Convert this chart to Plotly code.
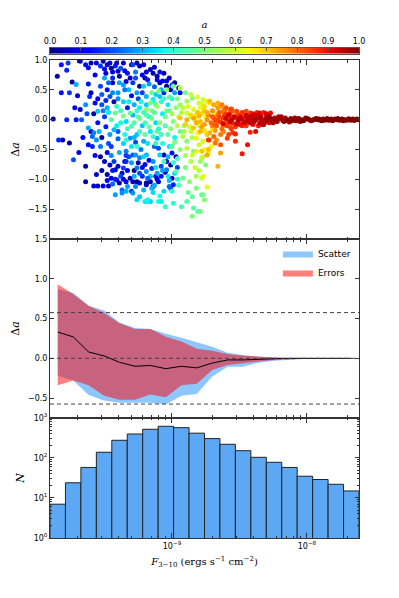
import numpy as np
import plotly.graph_objects as go

# matplotlib "jet" colour map
JET = [[0.0, "rgb(0,0,128)"], [0.11, "rgb(0,0,255)"], [0.125, "rgb(0,0,255)"],
       [0.34, "rgb(0,219,255)"], [0.35, "rgb(0,229,247)"], [0.375, "rgb(21,255,226)"],
       [0.64, "rgb(239,255,8)"], [0.65, "rgb(247,245,0)"], [0.66, "rgb(255,236,0)"],
       [0.89, "rgb(255,19,0)"], [0.91, "rgb(232,0,0)"], [1.0, "rgb(128,0,0)"]]

# scatter points: (log10 F, delta a, a)
navy = [(-9.88, 0.01, 0.05), (-9.85, 0.73, 0.03), (-9.68, 0.98, 0.04), (-9.81, -0.34, 0.06),
        (-9.76, -0.39, 0.03), (-9.74, 0.63, 0.02), (-9.68, 0.17, 0.05), (-9.64, -1.04, 0.04),
        (-9.58, -1.11, 0.08), (-9.55, -1.11, 0.06), (-9.51, -1.11, 0.09), (-9.47, -1.11, 0.05),
        (-9.64, -0.78, 0.03), (-9.56, -0.92, 0.07), (-9.53, -0.62, 0.02), (-9.50, -0.70, 0.05),
        (-9.46, -0.76, 0.08), (-9.48, -0.92, 0.04), (-9.45, -0.98, 0.10), (-9.41, -1.01, 0.06),
        (-9.39, -1.06, 0.03), (-9.34, -1.04, 0.09), (-9.29, -1.04, 0.05), (-9.24, -1.06, 0.11),
        (-9.19, -1.09, 0.07), (-9.14, -1.12, 0.04), (-9.42, -0.84, 0.02), (-9.37, -0.90, 0.06),
        (-9.56, 0.95, 0.08), (-9.51, 0.98, 0.03), (-9.46, 0.95, 0.10), (-9.40, 0.81, 0.05),
        (-9.39, 0.73, 0.02), (-9.34, 0.64, 0.07), (-9.24, 0.56, 0.04), (-9.11, 0.73, 0.03),
        (-9.06, 0.78, 0.06), (-9.30, 0.92, 0.02), (-9.24, 0.90, 0.05), (-9.14, 0.78, 0.03),
        (-9.11, 0.67, 0.08), (-9.09, 0.62, 0.04), (-9.04, 0.56, 0.02), (-9.01, 0.50, 0.06),
        (-8.95, 0.53, 0.03), (-9.31, -0.98, 0.04), (-9.26, -1.04, 0.02), (-9.19, -1.06, 0.05),
        (-9.16, -1.04, 0.03), (-9.10, -1.04, 0.07), (-9.06, -0.59, 0.04), (-9.01, -0.76, 0.02),
        (-9.04, -0.70, 0.06), (-9.62, 0.87, 0.09), (-9.48, 0.92, 0.07), (-9.21, 0.92, 0.10),
        (-9.60, -0.20, 0.04), (-9.70, 0.40, 0.08), (-9.58, 0.10, 0.03), (-9.35, -0.70, 0.05),
        (-9.28, -0.85, 0.02), (-9.12, -0.95, 0.06), (-9.05, -0.88, 0.03), (-9.00, -0.98, 0.05),
        (-8.97, -0.62, 0.02), (-9.43, 0.30, 0.07), (-9.52, -0.30, 0.04), (-9.20, 0.70, 0.03),
        (-9.16, 0.84, 0.06), (-8.98, 0.62, 0.04), (-9.36, 0.95, 0.07), (-9.26, 0.95, 0.04),
        (-9.44, 0.80, 0.08), (-9.22, 0.75, 0.10), (-9.44, 0.62, 0.06), (-9.02, 0.70, 0.05),
        (-9.52, -0.85, 0.04), (-9.17, -0.68, 0.08), (-9.07, 0.65, 0.09), (-9.57, 0.75, 0.10)]
blue = [(-9.82, 0.92, 0.14), (-9.77, 0.95, 0.18), (-9.78, 0.83, 0.16), (-9.64, 0.92, 0.13),
        (-9.53, 0.90, 0.17), (-9.42, 0.90, 0.15), (-9.29, 0.92, 0.19), (-9.84, -0.34, 0.16),
        (-9.73, -0.67, 0.20), (-9.82, 0.45, 0.14), (-9.76, 0.45, 0.18), (-9.67, 0.0, 0.21),
        (-9.71, 0.0, 0.15), (-9.78, 0.0, 0.17), (-9.59, -0.28, 0.22), (-9.62, -0.42, 0.13),
        (-9.59, -0.45, 0.16), (-9.53, 0.56, 0.19), (-9.48, 0.50, 0.14), (-9.46, 0.39, 0.20),
        (-9.61, 0.39, 0.17), (-9.57, 0.28, 0.13), (-9.29, 0.62, 0.18), (-9.18, 0.67, 0.15),
        (-9.29, -0.59, 0.21), (-9.34, -0.70, 0.16), (-9.36, -0.81, 0.19), (-9.37, -1.18, 0.22),
        (-9.30, -1.20, 0.18), (-9.01, -1.15, 0.20), (-8.99, -1.09, 0.16), (-9.00, -0.56, 0.14),
        (-9.45, -0.45, 0.18), (-9.40, -0.20, 0.21), (-9.33, 0.20, 0.15), (-9.25, 0.35, 0.19),
        (-9.20, -0.75, 0.13), (-9.15, -0.82, 0.17), (-9.08, -0.78, 0.20), (-9.06, 0.45, 0.16),
        (-9.13, -0.45, 0.22), (-9.50, 0.05, 0.18), (-9.55, -0.05, 0.14), (-9.27, -0.38, 0.20),
        (-9.22, -0.95, 0.17), (-9.42, -1.00, 0.15), (-8.96, -0.80, 0.19), (-8.94, 0.45, 0.13),
        (-9.50, 0.85, 0.12), (-9.38, 0.86, 0.20), (-9.33, 0.78, 0.15), (-9.22, 0.45, 0.18),
        (-9.62, 0.60, 0.14), (-9.52, 0.42, 0.22), (-9.30, 0.40, 0.12), (-9.44, 0.70, 0.16),
        (-9.52, 0.25, 0.20), (-9.40, -0.32, 0.22), (-9.49, -0.12, 0.15), (-9.55, 0.35, 0.12),
        (-9.48, -0.55, 0.10), (-9.43, -0.70, 0.18), (-9.33, -0.85, 0.10), (-9.08, -0.95, 0.15),
        (-9.22, -0.80, 0.12), (-9.38, -0.95, 0.20), (-9.10, -0.48, 0.20)]
cyan = [(-9.71, 0.59, 0.30), (-9.55, 0.14, 0.32), (-9.62, -0.14, 0.29), (-9.58, -0.22, 0.25),
        (-9.56, -0.34, 0.27), (-9.53, -0.45, 0.24), (-9.43, -0.17, 0.31), (-9.42, -1.26, 0.28),
        (-9.37, -1.23, 0.26), (-9.34, -1.20, 0.30), (-9.29, -1.23, 0.27), (-9.26, -1.34, 0.34),
        (-9.19, -1.37, 0.35), (-9.24, -1.29, 0.32), (-9.20, -1.37, 0.36), (-9.16, -1.37, 0.33),
        (-9.18, -1.34, 0.37), (-9.10, -1.37, 0.38), (-9.08, -1.37, 0.36), (-9.39, 0.62, 0.29),
        (-9.32, 0.50, 0.31), (-9.26, 0.45, 0.28), (-9.21, 0.56, 0.33), (-9.19, 0.39, 0.30),
        (-9.14, 0.34, 0.35), (-9.09, 0.39, 0.32), (-9.34, -0.03, 0.34), (-9.29, 0.08, 0.30),
        (-9.24, 0.20, 0.36), (-9.19, 0.25, 0.33), (-9.14, 0.31, 0.37), (-9.31, -0.31, 0.27),
        (-9.26, -0.25, 0.32), (-9.21, -0.36, 0.29), (-9.16, -0.20, 0.35), (-9.11, -0.31, 0.31),
        (-9.34, -0.53, 0.25), (-9.27, -0.59, 0.28), (-9.24, -0.64, 0.26), (-9.19, -0.59, 0.30),
        (-9.14, -0.70, 0.27), (-9.09, -0.59, 0.33), (-9.26, -0.81, 0.24), (-9.19, -0.87, 0.26),
        (-9.11, -0.90, 0.28), (-9.04, -0.84, 0.25), (-9.05, -1.46, 0.40), (-8.99, -1.40, 0.39),
        (-9.48, 0.20, 0.30), (-9.45, -0.60, 0.26), (-9.40, 0.45, 0.28), (-9.36, -0.40, 0.33),
        (-9.13, -1.10, 0.29), (-9.06, -1.20, 0.34), (-9.02, -1.02, 0.31), (-8.98, -0.30, 0.37),
        (-9.02, -0.45, 0.35), (-9.07, 0.10, 0.36), (-9.12, -0.05, 0.34), (-9.17, 0.05, 0.38),
        (-9.22, -0.10, 0.32), (-9.03, 0.25, 0.36), (-9.00, 0.35, 0.38), (-9.64, 0.25, 0.27),
        (-9.50, 0.70, 0.29), (-9.27, 0.80, 0.25), (-9.17, 0.60, 0.28), (-9.13, 0.55, 0.22),
        (-9.08, 0.50, 0.30), (-9.35, 0.50, 0.24), (-9.40, 0.35, 0.26), (-9.12, 0.42, 0.33),
        (-8.98, 0.45, 0.28), (-9.47, 0.12, 0.35), (-9.28, 0.25, 0.30), (-9.36, 0.30, 0.33),
        (-9.46, -0.25, 0.28), (-9.38, -0.05, 0.38), (-9.39, -0.55, 0.30), (-9.30, -0.45, 0.35),
        (-9.23, -0.50, 0.25), (-9.12, -0.80, 0.35), (-9.03, -0.62, 0.30), (-9.30, -0.72, 0.28),
        (-9.16, -0.95, 0.32), (-9.27, -1.12, 0.26), (-9.21, -1.18, 0.30), (-9.14, -1.22, 0.34),
        (-9.09, -1.28, 0.38), (-9.33, -1.12, 0.28)]
mixed = [(-9.60, 0.95, 0.05), (-9.49, 0.78, 0.12), (-9.45, 0.86, 0.03), (-9.41, 0.95, 0.09),
         (-9.35, 0.82, 0.13), (-9.31, 0.70, 0.06), (-9.27, 0.70, 0.20), (-9.19, 0.80, 0.08),
         (-9.13, 0.88, 0.05), (-9.09, 0.80, 0.14), (-9.04, 0.65, 0.10), (-9.00, 0.58, 0.18),
         (-9.36, 0.58, 0.28), (-9.47, 0.62, 0.22), (-9.66, -0.30, 0.12), (-9.63, 0.10, 0.20),
         (-9.60, 0.45, 0.06), (-9.57, -0.60, 0.10), (-9.54, -0.20, 0.30), (-9.51, 0.15, 0.25),
         (-9.47, -0.40, 0.20), (-9.44, 0.45, 0.26), (-9.41, -0.10, 0.36), (-9.49, 0.32, 0.16),
         (-9.69, -0.55, 0.08), (-9.72, 0.20, 0.10), (-9.38, 0.15, 0.42), (-9.35, -0.25, 0.38),
         (-9.32, 0.30, 0.36), (-9.28, -0.05, 0.44), (-9.26, 0.15, 0.40), (-9.23, 0.30, 0.38),
         (-9.20, -0.25, 0.46), (-9.18, -0.40, 0.35), (-9.15, 0.15, 0.50), (-9.12, 0.25, 0.44),
         (-9.09, -0.05, 0.52), (-9.07, -0.40, 0.38), (-9.04, 0.15, 0.50), (-9.01, -0.15, 0.52),
         (-9.28, -0.30, 0.30), (-9.24, 0.02, 0.48), (-9.19, 0.08, 0.45), (-9.14, -0.28, 0.42),
         (-9.06, 0.35, 0.42), (-9.11, -0.20, 0.46), (-9.44, -0.85, 0.14), (-9.40, -0.78, 0.08),
         (-9.36, -1.00, 0.12), (-9.32, -0.62, 0.20), (-9.28, -0.95, 0.30), (-9.25, -0.72, 0.06),
         (-9.21, -0.62, 0.34), (-9.18, -0.98, 0.22), (-9.15, -1.15, 0.30), (-9.11, -1.00, 0.10),
         (-9.07, -0.85, 0.28), (-9.03, -0.95, 0.36), (-9.02, -1.12, 0.22), (-8.98, -0.90, 0.33),
         (-8.96, -1.00, 0.40), (-9.24, -0.90, 0.20), (-9.34, -0.60, 0.18), (-9.44, -1.08, 0.22),
         (-9.48, -1.02, 0.12)]
green = [(-9.45, 0.0, 0.45), (-9.42, 0.11, 0.47), (-9.36, 0.06, 0.50), (-9.31, 0.11, 0.46),
         (-9.30, -0.11, 0.44), (-9.24, -0.20, 0.42), (-9.34, -0.34, 0.40), (-9.26, -0.45, 0.41),
         (-9.19, 0.17, 0.52), (-9.11, 0.22, 0.54), (-9.16, 0.28, 0.51), (-9.15, 0.45, 0.48),
         (-9.10, 0.48, 0.50), (-9.04, 0.50, 0.53), (-8.99, 0.56, 0.49), (-8.94, 0.53, 0.55),
         (-8.94, 0.25, 0.53), (-8.89, 0.31, 0.55), (-8.85, 0.36, 0.52), (-8.99, -0.03, 0.50),
         (-8.94, -0.20, 0.48), (-8.89, -0.36, 0.51), (-8.84, -0.53, 0.47), (-8.79, -0.70, 0.53),
         (-8.97, -0.87, 0.45), (-8.92, -0.98, 0.48), (-8.87, -1.04, 0.52), (-8.82, -1.15, 0.50),
         (-8.78, -1.26, 0.46), (-8.84, -1.48, 0.44), (-8.81, -1.54, 0.47), (-8.85, -1.62, 0.50),
         (-8.77, -1.26, 0.49), (-8.76, -1.34, 0.51), (-8.75, -0.76, 0.50), (-8.79, -1.54, 0.48),
         (-8.89, -1.37, 0.45), (-8.85, -1.29, 0.46), (-8.93, -1.46, 0.42), (-9.05, -0.10, 0.44),
         (-9.08, -0.25, 0.42), (-9.00, -0.45, 0.46), (-8.96, -0.65, 0.43), (-9.02, 0.15, 0.47),
         (-9.12, -0.40, 0.41), (-9.06, -0.70, 0.43), (-8.90, -0.80, 0.49), (-8.86, 0.05, 0.54),
         (-8.91, -0.10, 0.52), (-9.20, -0.05, 0.43), (-9.00, -1.20, 0.41), (-8.95, -1.10, 0.44),
         (-8.88, -1.22, 0.47), (-9.41, 0.22, 0.40), (-9.33, -0.15, 0.43), (-9.25, 0.05, 0.46),
         (-9.21, 0.12, 0.42), (-9.17, -0.12, 0.48), (-9.13, 0.12, 0.45), (-9.10, -0.15, 0.40),
         (-9.15, 0.02, 0.50), (-9.05, 0.05, 0.48), (-9.08, 0.30, 0.40), (-9.03, -0.25, 0.45),
         (-8.99, -0.72, 0.40), (-9.00, 0.10, 0.55), (-8.97, 0.20, 0.52), (-8.98, -0.38, 0.50),
         (-8.94, -0.50, 0.52), (-8.90, -0.60, 0.55), (-9.02, 0.38, 0.45), (-8.96, 0.35, 0.50),
         (-8.90, 0.45, 0.48), (-8.91, -0.20, 0.55), (-8.85, -0.30, 0.56), (-8.86, -0.70, 0.56),
         (-8.82, -0.95, 0.55)]
yellow = [(-8.89, 0.11, 0.60), (-8.84, 0.17, 0.62), (-8.82, 0.08, 0.61), (-8.79, 0.20, 0.63),
          (-8.77, 0.25, 0.64), (-8.74, 0.31, 0.62), (-8.77, 0.34, 0.60), (-8.73, 0.31, 0.65),
          (-8.72, 0.28, 0.66), (-8.89, -0.48, 0.58), (-8.85, -0.59, 0.60), (-8.82, -0.53, 0.62),
          (-8.78, -0.64, 0.59), (-8.82, -0.31, 0.63), (-8.77, -0.36, 0.61), (-8.74, -0.25, 0.64),
          (-8.74, -1.13, 0.62), (-8.78, -0.98, 0.60), (-8.77, -0.95, 0.63), (-8.77, -0.62, 0.58),
          (-8.73, -0.56, 0.61), (-8.76, -0.50, 0.64), (-8.86, -0.20, 0.59), (-8.92, 0.20, 0.58),
          (-8.80, -0.10, 0.62), (-8.75, 0.05, 0.65), (-8.70, -0.15, 0.66), (-8.83, -0.80, 0.60),
          (-8.80, -0.85, 0.57), (-8.95, 0.05, 0.59), (-8.92, -0.28, 0.57), (-8.68, 0.10, 0.66),
          (-8.71, -0.45, 0.64), (-8.96, -0.10, 0.58), (-8.93, 0.12, 0.57), (-8.88, 0.22, 0.62),
          (-8.87, -0.12, 0.60), (-8.83, 0.00, 0.66), (-8.81, -0.22, 0.64), (-8.80, 0.28, 0.60),
          (-8.78, 0.10, 0.68), (-8.76, -0.18, 0.67), (-8.86, 0.42, 0.58), (-8.81, 0.38, 0.63),
          (-8.80, -0.42, 0.60)]
orange = [(-8.94, 0.03, 0.70), (-8.89, 0.0, 0.72), (-8.84, 0.03, 0.74), (-8.79, -0.03, 0.71),
          (-8.74, 0.0, 0.76), (-8.69, 0.03, 0.78), (-8.84, -0.14, 0.70), (-8.79, -0.20, 0.72),
          (-8.74, -0.25, 0.69), (-8.72, -0.34, 0.74), (-8.73, -0.50, 0.71), (-8.74, -0.59, 0.73),
          (-8.78, -0.53, 0.70), (-8.64, -0.56, 0.74), (-8.66, -0.78, 0.72), (-8.67, -0.34, 0.76),
          (-8.64, -0.25, 0.78), (-8.62, -0.20, 0.77), (-8.72, 0.31, 0.71), (-8.69, 0.25, 0.73),
          (-8.66, 0.20, 0.75), (-8.62, 0.14, 0.78), (-8.64, 0.22, 0.74), (-8.61, 0.17, 0.79),
          (-8.57, 0.17, 0.80), (-8.55, 0.14, 0.80), (-8.68, -0.39, 0.79), (-8.86, 0.08, 0.68),
          (-8.81, 0.12, 0.70), (-8.76, -0.08, 0.74), (-8.70, -0.10, 0.77), (-8.66, 0.08, 0.78),
          (-8.60, -0.05, 0.80), (-8.58, 0.05, 0.79), (-8.62, -0.10, 0.78), (-8.90, -0.08, 0.69),
          (-8.82, -0.05, 0.72), (-8.68, -0.18, 0.75), (-8.57, -0.12, 0.80), (-8.52, 0.08, 0.80),
          (-8.80, 0.06, 0.72), (-8.78, -0.12, 0.74), (-8.76, 0.15, 0.70), (-8.73, 0.08, 0.78),
          (-8.71, -0.05, 0.80), (-8.70, 0.15, 0.76), (-8.76, 0.22, 0.68), (-8.72, -0.22, 0.72),
          (-8.69, -0.28, 0.80), (-8.66, 0.28, 0.72), (-8.63, 0.25, 0.78), (-8.74, 0.12, 0.73)]
red = [(-8.55, -0.22, 0.86), (-8.53, -0.24, 0.88), (-8.53, -0.36, 0.87), (-8.48, -0.57, 0.89),
       (-8.44, -0.42, 0.90), (-8.42, -0.21, 0.88), (-8.38, -0.20, 0.91), (-8.59, -0.31, 0.85),
       (-8.58, -0.25, 0.84), (-8.64, -0.42, 0.82), (-8.73, -0.34, 0.86), (-8.50, 0.08, 0.87),
       (-8.47, 0.11, 0.85), (-8.45, 0.08, 0.89), (-8.42, 0.11, 0.86), (-8.40, 0.10, 0.90),
       (-8.37, 0.12, 0.88), (-8.35, 0.11, 0.91), (-8.32, 0.12, 0.89), (-8.30, 0.10, 0.92),
       (-8.27, 0.11, 0.90), (-8.52, 0.14, 0.84), (-8.48, 0.12, 0.86), (-8.45, 0.14, 0.83),
       (-8.53, -0.12, 0.85), (-8.48, -0.10, 0.88), (-8.45, -0.10, 0.86), (-8.40, -0.08, 0.90),
       (-8.36, -0.10, 0.89), (-8.33, -0.08, 0.91), (-8.70, 0.05, 0.82), (-8.66, -0.02, 0.83),
       (-8.62, 0.03, 0.85), (-8.58, -0.04, 0.84), (-8.55, 0.02, 0.87), (-8.51, -0.05, 0.86),
       (-8.46, 0.03, 0.89), (-8.43, -0.03, 0.88), (-8.60, 0.10, 0.83), (-8.56, -0.15, 0.85),
       (-8.65, 0.12, 0.82), (-8.68, -0.08, 0.83), (-8.38, 0.04, 0.91), (-8.34, -0.03, 0.90),
       (-8.30, 0.05, 0.92), (-8.28, -0.05, 0.92), (-8.67, -0.10, 0.82), (-8.65, 0.05, 0.84),
       (-8.63, -0.15, 0.80), (-8.61, 0.08, 0.86), (-8.59, -0.10, 0.85), (-8.57, 0.10, 0.86),
       (-8.55, -0.06, 0.88), (-8.53, 0.04, 0.90), (-8.50, -0.08, 0.90), (-8.49, 0.02, 0.92),
       (-8.47, -0.04, 0.92), (-8.60, 0.20, 0.82), (-8.56, 0.18, 0.84), (-8.68, 0.00, 0.84),
       (-8.64, -0.04, 0.86), (-8.39, 0.08, 0.92)]
darkred = [(-8.60, 0.02, 0.93), (-8.57, -0.03, 0.94), (-8.54, 0.05, 0.93), (-8.51, -0.02, 0.95),
           (-8.49, 0.04, 0.94), (-8.46, -0.05, 0.93), (-8.43, 0.01, 0.95), (-8.41, 0.06, 0.94),
           (-8.39, -0.03, 0.96), (-8.36, 0.03, 0.95), (-8.33, 0.0, 0.96), (-8.31, -0.04, 0.95),
           (-8.29, 0.04, 0.96), (-8.26, -0.02, 0.97), (-8.24, 0.03, 0.96), (-8.22, -0.03, 0.97),
           (-8.20, 0.02, 0.97), (-8.18, -0.01, 0.98), (-8.16, 0.03, 0.97), (-8.14, -0.02, 0.98),
           (-8.12, 0.02, 0.98), (-8.10, 0.0, 0.98), (-8.08, -0.02, 0.99), (-8.06, 0.02, 0.98),
           (-8.04, 0.0, 0.99), (-8.02, -0.01, 0.99), (-8.00, 0.02, 0.99), (-7.98, 0.0, 0.99),
           (-7.96, -0.01, 1.0), (-7.94, 0.01, 0.99), (-7.92, 0.0, 1.0), (-7.90, -0.01, 1.0),
           (-7.88, 0.01, 1.0), (-7.86, 0.0, 1.0), (-7.84, -0.01, 1.0), (-7.82, 0.01, 1.0),
           (-7.80, 0.0, 1.0), (-7.78, 0.0, 1.0), (-7.76, -0.01, 1.0), (-7.74, 0.01, 1.0),
           (-7.72, 0.0, 1.0), (-7.70, 0.0, 1.0), (-7.68, -0.01, 1.0), (-7.66, 0.01, 1.0),
           (-7.64, 0.0, 1.0), (-7.62, 0.0, 1.0), (-8.45, 0.07, 0.94), (-8.52, -0.07, 0.93),
           (-8.35, -0.06, 0.95), (-8.28, 0.06, 0.96), (-8.25, -0.05, 0.96), (-8.19, 0.05, 0.97),
           (-8.13, -0.04, 0.97), (-8.09, 0.03, 0.98), (-8.05, -0.03, 0.98), (-8.01, 0.03, 0.99),
           (-7.97, -0.02, 0.99), (-7.93, 0.02, 1.0), (-7.89, -0.02, 1.0), (-7.85, 0.02, 1.0),
           (-7.81, -0.02, 1.0), (-7.77, 0.02, 1.0), (-7.73, -0.02, 1.0), (-7.69, 0.015, 1.0),
           (-7.65, -0.015, 1.0), (-8.40, -0.01, 0.95), (-8.37, 0.07, 0.94), (-8.32, -0.08, 0.95),
           (-8.58, 0.08, 0.93), (-8.62, -0.07, 0.93), (-8.56, 0.0, 0.94), (-8.50, 0.01, 0.95),
           (-8.44, -0.01, 0.96), (-8.38, 0.0, 0.96), (-8.34, 0.05, 0.96), (-8.30, 0.0, 0.97),
           (-8.27, 0.02, 0.98), (-8.23, 0.0, 0.98), (-8.21, 0.05, 0.97), (-8.17, -0.03, 0.98),
           (-8.15, 0.0, 0.99), (-8.11, -0.02, 0.99), (-8.07, 0.01, 0.99), (-8.03, -0.02, 1.0),
           (-7.99, 0.01, 1.0), (-7.95, 0.0, 1.0), (-7.91, 0.01, 1.0), (-7.87, -0.01, 1.0),
           (-7.83, 0.0, 1.0), (-7.79, 0.01, 1.0), (-7.75, 0.0, 1.0), (-7.71, -0.01, 1.0),
           (-7.67, 0.0, 1.0), (-7.63, 0.01, 1.0), (-8.42, -0.05, 0.94), (-8.44, 0.05, 0.93)]

# flux bins (log10 F)
BIN_LO = -9.904
BIN_W = 0.1145
N_PER_BIN = [7, 24, 58, 139, 277, 398, 522, 620, 573, 417,
             305, 220, 152, 104, 78, 58, 35, 29, 22, 15]

# binned delta a: median, scatter band, error band
med = [0.33, 0.27, 0.08, 0.03, -0.05, -0.10, -0.09, -0.13, -0.10, -0.12,
       -0.06, -0.02, -0.02, -0.01, -0.005, 0.0, 0.0, 0.0, 0.0, 0.0]
scat_hi = [0.87, 0.82, 0.66, 0.60, 0.45, 0.38, 0.37, 0.31, 0.26, 0.20,
           0.145, 0.07, 0.04, 0.02, 0.01, 0.005, 0.003, 0.002, 0.001, 0.001]
scat_lo = [-0.22, -0.28, -0.46, -0.53, -0.56, -0.56, -0.56, -0.58, -0.47, -0.45,
           -0.23, -0.105, -0.105, -0.055, -0.03, -0.015, -0.008, -0.005, -0.003, -0.002]
err_hi = [0.93, 0.81, 0.66, 0.57, 0.44, 0.37, 0.37, 0.27, 0.21, 0.12,
          0.095, 0.054, 0.035, 0.02, 0.01, 0.005, 0.003, 0.002, 0.001, 0.001]
err_lo = [-0.34, -0.28, -0.34, -0.47, -0.52, -0.52, -0.455, -0.49, -0.34, -0.32,
          -0.146, -0.084, -0.06, -0.04, -0.02, -0.01, -0.005, -0.003, -0.002, -0.001]
SIGMA = 0.575

A_TICKS = [0.0, 0.1, 0.2, 0.3, 0.4, 0.5, 0.6, 0.7, 0.8, 0.9, 1.0]

nbin = len(N_PER_BIN)
centers = BIN_LO + BIN_W * (np.arange(nbin) + 0.5)
x_range = [BIN_LO, BIN_LO + BIN_W * nbin]

pts = navy + blue + cyan + mixed + green + yellow + orange + red + darkred
sc_lgf, sc_da, sc_a = map(list, zip(*pts))

SANS = "DejaVu Sans"
SERIF = "DejaVu Serif"
FRAME = "#333"

fig = go.Figure()

# top: scatter coloured by a
fig.add_trace(go.Scatter(
    x=sc_lgf, y=sc_da, mode="markers", showlegend=False, xaxis="x", yaxis="y",
    marker=dict(color=sc_a, colorscale=JET, cmin=0, cmax=1, size=5, line=dict(width=0)),
))

# colour bar strip above the top panel
cb = np.linspace(0, 1, 256)
fig.add_trace(go.Heatmap(z=[cb], x=cb, y=[0], colorscale=JET, zmin=0, zmax=1,
                         showscale=False, xaxis="x4", yaxis="y4", hoverinfo="skip"))

# middle: bands
xc = list(centers)
fig.add_trace(go.Scatter(
    x=xc + xc[::-1], y=scat_hi + scat_lo[::-1], fill="toself", mode="lines",
    fillcolor="rgba(30,144,255,0.5)", line=dict(width=0), name="Scatter",
    xaxis="x2", yaxis="y2",
))
fig.add_trace(go.Scatter(
    x=xc + xc[::-1], y=err_hi + err_lo[::-1], fill="toself", mode="lines",
    fillcolor="rgba(255,0,0,0.5)", line=dict(width=0), name="Errors",
    xaxis="x2", yaxis="y2",
))
fig.add_trace(go.Scatter(x=xc, y=med, mode="lines", line=dict(color="black", width=1),
                         showlegend=False, xaxis="x2", yaxis="y2"))
for yv in (SIGMA, 0.0, -SIGMA):
    fig.add_shape(type="line", xref="x2 domain", yref="y2", x0=0, x1=1, y0=yv, y1=yv,
                  line=dict(color="#444", width=1, dash="4px,3px"))

# bottom: histogram
fig.add_trace(go.Bar(
    x=centers, y=N_PER_BIN, width=BIN_W, showlegend=False, xaxis="x3", yaxis="y3",
    marker=dict(color="#5ca8f5", line=dict(color="#222", width=1)),
))

minor_x = [np.log10(k) + e for e in (-10, -9, -8) for k in range(2, 10)]
minor_x = [v for v in minor_x if x_range[0] < v < x_range[1]]
minor_n = [k * 10 ** e for e in (0, 1, 2) for k in range(2, 10)]

xbase = dict(range=x_range, tickvals=[-9, -8], ticktext=["10<sup>−9</sup>", "10<sup>−8</sup>"],
             ticks="inside", ticklen=5, tickcolor=FRAME, mirror="allticks", showline=True,
             linecolor=FRAME, linewidth=1, showgrid=False, zeroline=False, automargin=False,
             minor=dict(tickvals=minor_x, ticks="inside", ticklen=2.5, tickcolor=FRAME))
ybase = dict(ticks="inside", ticklen=4, tickcolor=FRAME, mirror="allticks", showline=True,
             linecolor=FRAME, linewidth=1, showgrid=False, zeroline=False, automargin=False)
ytitle = dict(text="Δ<i>a</i>", font=dict(family=SERIF, size=11), standoff=6)

D_TOP = [0.6004, 0.9598]
D_MID = [0.2410, 0.6004]
D_BOT = [0.0, 0.2410]

# the page puts the figure 8 px in from the top-left corner
fig.update_layout(
    width=399, height=598,
    margin=dict(l=42, r=48, t=32, b=68),
    paper_bgcolor="white", plot_bgcolor="white",
    font=dict(family=SANS, size=8, color="black"),
    xaxis=dict(xbase, anchor="y", showticklabels=False),
    yaxis=dict(ybase, domain=D_TOP, anchor="x", range=[-2.0, 1.0],
               tickvals=[-1.5, -1.0, -0.5, 0.0, 0.5, 1.0], tickformat=".1f", title=ytitle),
    xaxis2=dict(xbase, anchor="y2", showticklabels=False),
    yaxis2=dict(ybase, domain=D_MID, anchor="x2", range=[-0.75, 1.5],
                tickvals=[-0.5, 0.0, 0.5, 1.0, 1.5], tickformat=".1f", title=ytitle),
    xaxis3=dict(xbase, anchor="y3",
                title=dict(text="<i>F</i><sub>3−10</sub> (ergs s<sup>−1</sup> cm<sup>−2</sup>)",
                           font=dict(family=SERIF, size=10), standoff=8)),
    yaxis3=dict(ybase, domain=D_BOT, anchor="x3", type="log", range=[0, 3],
                tickvals=[1, 10, 100, 1000],
                ticktext=["10<sup>0</sup>", "10<sup>1</sup>", "10<sup>2</sup>", "10<sup>3</sup>"],
                minor=dict(tickvals=minor_n, ticks="inside", ticklen=2, tickcolor=FRAME),
                title=dict(text="<i>N</i>", font=dict(family=SERIF, size=11), standoff=6)),
    xaxis4=dict(domain=[0, 1], anchor="y4", side="top", range=[0, 1], tickvals=A_TICKS,
                tickformat=".1f", ticks="inside", ticklen=3, tickcolor="#555",
                showline=True, mirror=True, linecolor="#555", linewidth=1, showgrid=False,
                zeroline=False, automargin=False,
                title=dict(text="<i>a</i>", font=dict(family=SERIF, size=10), standoff=6)),
    yaxis4=dict(domain=[0.9725, 0.9845], anchor="x4", range=[-0.5, 0.5], showticklabels=False,
                showline=True, mirror=True, linecolor="#555", linewidth=1, showgrid=False,
                zeroline=False, ticks="", automargin=False),
    legend=dict(x=0.99, y=D_MID[1], xanchor="right", yanchor="top", bgcolor="rgba(0,0,0,0)",
                font=dict(family=SANS, size=9), itemwidth=30, tracegroupgap=2),
)

fig.write_html("out.html")
